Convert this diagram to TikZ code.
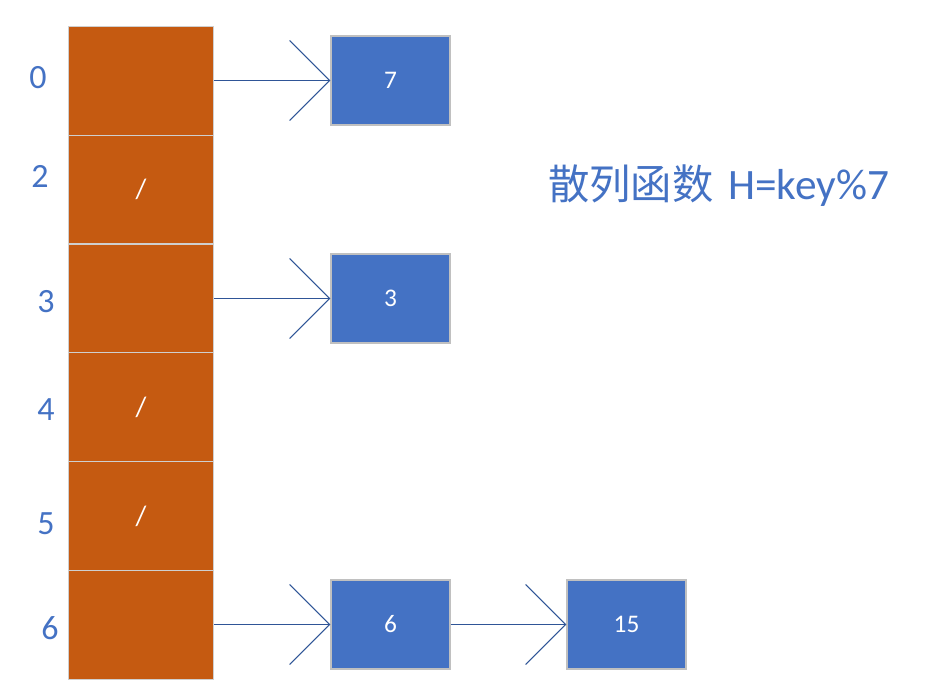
\documentclass[tikz,border=0pt]{standalone}
\usepackage{fontspec}
\setmainfont{Carlito}
\newfontfamily\cjk{Noto Sans CJK SC}
\usetikzlibrary{arrows.meta}
\definecolor{cellc}{HTML}{C55A11}
\definecolor{cellb}{HTML}{CFCFCF}
\definecolor{boxc}{HTML}{4472C4}
\definecolor{boxb}{HTML}{C0C0C0}
\definecolor{linkc}{HTML}{2F5597}
\definecolor{txtc}{HTML}{4472C4}
\begin{document}
\begin{tikzpicture}[x=0.75pt,y=-0.75pt,
  cell/.style={draw=cellb,line width=0.8pt,fill=cellc,minimum width=108.75pt,minimum height=81.45pt,inner sep=0pt,anchor=north west,text=white,font=\fontsize{21}{24}\selectfont},
  valbox/.style={draw=boxb,line width=0.8pt,fill=boxc,minimum width=89.25pt,minimum height=66.75pt,inner sep=0pt,text=white,font=\fontsize{19}{22}\selectfont},
  idx/.style={text=txtc,inner sep=0pt,font=\fontsize{25.5}{30}\selectfont},
  link/.style={draw=linkc,line width=0.9pt,-{Straight Barb[length=30pt,width=60pt]}},
  titlet/.style={text=txtc,inner sep=0pt,anchor=west}
]
\useasboundingbox (0,0) rectangle (934,685);
\fill[white] (0,0) rectangle (934,685);
% table cells
\node[cell] (c0) at (68,26) {};
\node[cell] (c2) at (68,134.8) {/};
\node[cell] (c3) at (68,243.6) {};
\node[cell] (c4) at (68,352.4) {/};
\node[cell] (c5) at (68,461.2) {/};
\node[cell] (c6) at (68,570) {};
% index labels
\node[idx] (l0) at (38,78) {0};
\node[idx] (l2) at (40,176) {2};
\node[idx] (l3) at (46,302) {3};
\node[idx] (l4) at (46,410) {4};
\node[idx] (l5) at (46,524) {5};
\node[idx] (l6) at (50,628) {6};
% value boxes
\node[valbox] (b7) at (390.5,80.5) {7};
\node[valbox] (b3) at (390.5,298.5) {3};
\node[valbox] (b6) at (390.5,624.5) {6};
\node[valbox] (b15) at (626.5,624.5) {15};
% links
\draw[link] (c0.east |- b7.west) -- (b7.west);
\draw[link] (c3.east |- b3.west) -- (b3.west);
\draw[link] (c6.east |- b6.west) -- (b6.west);
\draw[link] (b6.east) -- (b15.west);
% title
\node[titlet] (title) at (548,186) {{\cjk\fontsize{31}{35}\selectfont 散列函数}\hspace{11pt}{\fontsize{32.5}{36}\selectfont H=key\%7}};
\end{tikzpicture}
\end{document}
